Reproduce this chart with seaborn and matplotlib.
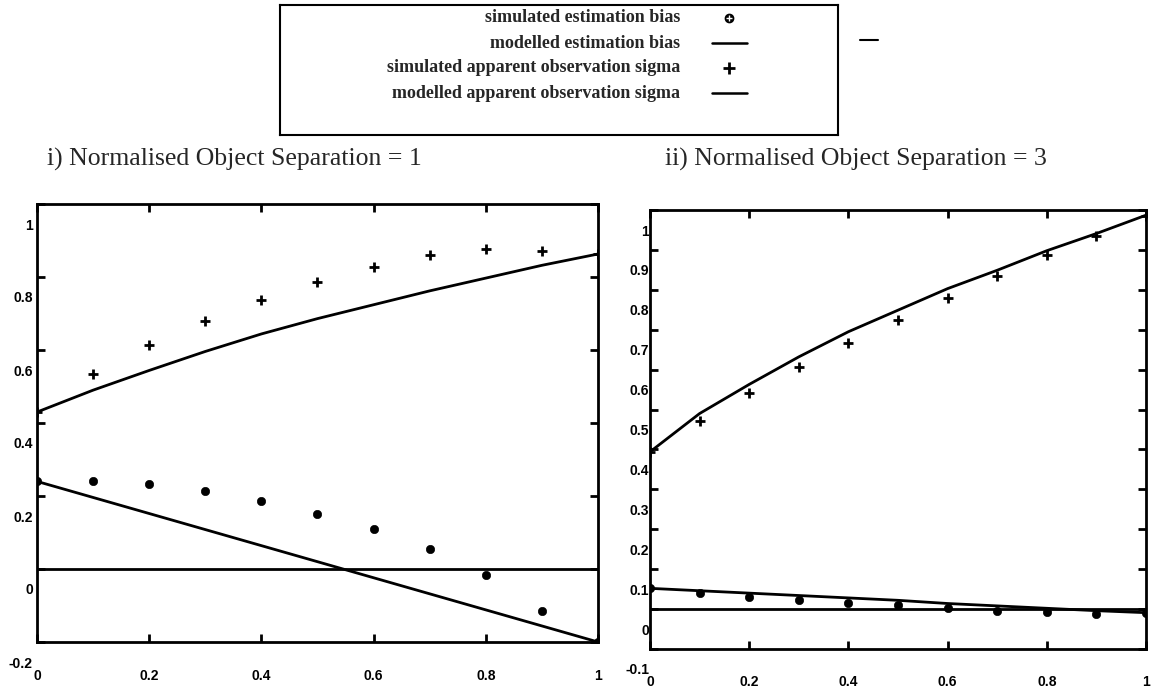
import numpy as np
import pandas as pd
import seaborn as sns
import matplotlib.pyplot as plt
from matplotlib.lines import Line2D
from matplotlib.transforms import ScaledTranslation

# ----- data -----
x_sep = [0.0, 0.1, 0.2, 0.3, 0.4, 0.5, 0.6, 0.7, 0.8, 0.9, 1.0]

# i) separation = 1
sep1_sim_bias = [0.240, 0.242, 0.232, 0.214, 0.186, 0.151, 0.109, 0.054, -0.017, -0.115, -0.200]
sep1_mod_bias = [0.240, 0.196, 0.152, 0.108, 0.064, 0.020, -0.024, -0.068, -0.112, -0.156, -0.200]
sep1_sim_sigma = [0.430, 0.533, 0.614, 0.679, 0.738, 0.786, 0.828, 0.859, 0.876, 0.872, 0.863]
sep1_mod_sigma = [0.430, 0.490, 0.544, 0.596, 0.644, 0.686, 0.724, 0.762, 0.797, 0.832, 0.863]

# ii) separation = 3
sep3_sim_bias = [0.052, 0.040, 0.031, 0.023, 0.016, 0.010, 0.002, -0.004, -0.007, -0.012, -0.011]
sep3_mod_bias = [0.052, 0.046, 0.040, 0.034, 0.028, 0.022, 0.014, 0.008, 0.002, -0.004, -0.009]
sep3_sim_sigma = [0.394, 0.471, 0.542, 0.607, 0.667, 0.724, 0.780, 0.834, 0.886, 0.935, 0.985]
sep3_mod_sigma = [0.394, 0.490, 0.563, 0.632, 0.695, 0.749, 0.803, 0.849, 0.898, 0.941, 0.987]

titles = ["i) Normalised Object Separation = 1", "ii) Normalised Object Separation = 3"]
legend_labels = ["simulated estimation bias", "modelled estimation bias",
                 "simulated apparent observation sigma", "modelled apparent observation sigma"]

x_ticks = [0, 0.2, 0.4, 0.6, 0.8, 1.0]
x_ticklabels = ["0", "0.2", "0.4", "0.6", "0.8", "1"]
y1_ticks = [-0.2, 0, 0.2, 0.4, 0.6, 0.8, 1.0]
y1_ticklabels = ["-0.2", "0", "0.2", "0.4", "0.6", "0.8", "1"]
y3_ticks = [-0.1, 0, 0.1, 0.2, 0.3, 0.4, 0.5, 0.6, 0.7, 0.8, 0.9, 1.0]
y3_ticklabels = ["-0.1", "0", "0.1", "0.2", "0.3", "0.4", "0.5", "0.6", "0.7", "0.8", "0.9", "1"]

sns.set_style("white")
plt.rcParams['font.family'] = ['Liberation Sans', 'DejaVu Sans']

fig = plt.figure(figsize=(11.53, 6.91), dpi=100)
W, H = 1153, 691

def px_axes(l, t, r, b):
    return fig.add_axes([l / W, 1 - b / H, (r - l) / W, (b - t) / H])

ax1 = px_axes(37, 204, 598, 642)
ax3 = px_axes(650, 210, 1146, 649)

panels = [
    (ax1, sep1_sim_bias, sep1_mod_bias, sep1_sim_sigma, sep1_mod_sigma,
     (-0.2, 1.0), y1_ticks, y1_ticklabels, 3.0, 22),
    (ax3, sep3_sim_bias, sep3_mod_bias, sep3_sim_sigma, sep3_mod_sigma,
     (-0.1, 1.0), y3_ticks, y3_ticklabels, 0.5, 21),
]

for ax, sb, mb, ss, ms, ylim, yt, ytl, ypad, xshift in panels:
    df = pd.DataFrame({"x": x_sep, "sim_bias": sb, "mod_bias": mb,
                       "sim_sigma": ss, "mod_sigma": ms})
    ax.axhline(0, color="black", lw=2.0, zorder=1)
    sns.lineplot(data=df, x="x", y="mod_sigma", ax=ax, color="black", lw=2.0)
    sns.lineplot(data=df, x="x", y="mod_bias", ax=ax, color="black", lw=2.0)
    sns.scatterplot(data=df, x="x", y="sim_sigma", ax=ax, marker="+", s=50,
                    color="black", linewidth=2.0, zorder=3)
    sns.scatterplot(data=df, x="x", y="sim_bias", ax=ax, marker="o", s=36,
                    color="black", edgecolor="black", zorder=3)
    ax.set_xlim(0, 1)
    ax.set_ylim(*ylim)
    ax.set_xticks(x_ticks)
    ax.set_xticklabels(x_ticklabels)
    ax.set_yticks(yt)
    ax.set_yticklabels(ytl)
    ax.set_xlabel("")
    ax.set_ylabel("")
    ax.tick_params(direction="in", length=6, width=2, left=True, bottom=True,
                   top=True, right=True, labelsize=10, colors="black")
    ax.tick_params(axis="y", pad=ypad)
    for lab in ax.get_xticklabels() + ax.get_yticklabels():
        lab.set_fontweight("bold")
    # labels in the scan sit lower than their tick marks
    for lab in ax.get_yticklabels():
        lab.set_transform(lab.get_transform() + ScaledTranslation(0, -0.20, fig.dpi_scale_trans))
    for lab in ax.get_xticklabels():
        lab.set_transform(lab.get_transform() + ScaledTranslation(0, -xshift / 100, fig.dpi_scale_trans))
    for sp in ax.spines.values():
        sp.set_visible(True)
        sp.set_color("black")
        sp.set_linewidth(2.0)

fig.text(47 / W, 1 - 159 / H, titles[0], family=["Liberation Serif"], fontsize=18.5,
         ha="left", va="center")
fig.text(665 / W, 1 - 159 / H, titles[1], family=["Liberation Serif"], fontsize=18.5,
         ha="left", va="center")

# legend box, drawn as its own small axes in pixel units
# (text right aligned, keys on the right, as in the scan)
L_LEFT, L_TOP, L_RIGHT, L_BOTTOM = 280, 5, 838, 135
lax = px_axes(L_LEFT, L_TOP, L_RIGHT, L_BOTTOM)
lax.set_xlim(L_LEFT, L_RIGHT)
lax.set_ylim(L_BOTTOM, L_TOP)
lax.set_xticks([])
lax.set_yticks([])
for sp in lax.spines.values():
    sp.set_visible(True)
    sp.set_color("black")
    sp.set_linewidth(1.5)
rows = [18, 43, 68, 93]
for lbl, yy in zip(legend_labels, rows):
    lax.text(680, yy, lbl, ha="right", va="center", family=["Liberation Serif"],
             fontweight="bold", fontsize=13)
lax.plot([729], [rows[0]], marker="o", ms=6, color="black", ls="none")
lax.plot([729], [rows[0]], marker="+", ms=4, mew=1, color="white", ls="none")
lax.plot([712, 747], [rows[1], rows[1]], color="black", lw=1.8)
lax.plot([729], [rows[2]], marker="+", ms=9, mew=2, color="black", ls="none")
lax.plot([712, 747], [rows[3], rows[3]], color="black", lw=1.8)

# short stray stroke to the right of the legend in the scan
fig.add_artist(Line2D([860 / W, 878 / W], [1 - 40 / H, 1 - 40 / H], color="black", lw=1.5))

fig.savefig("out.png", dpi=100)
